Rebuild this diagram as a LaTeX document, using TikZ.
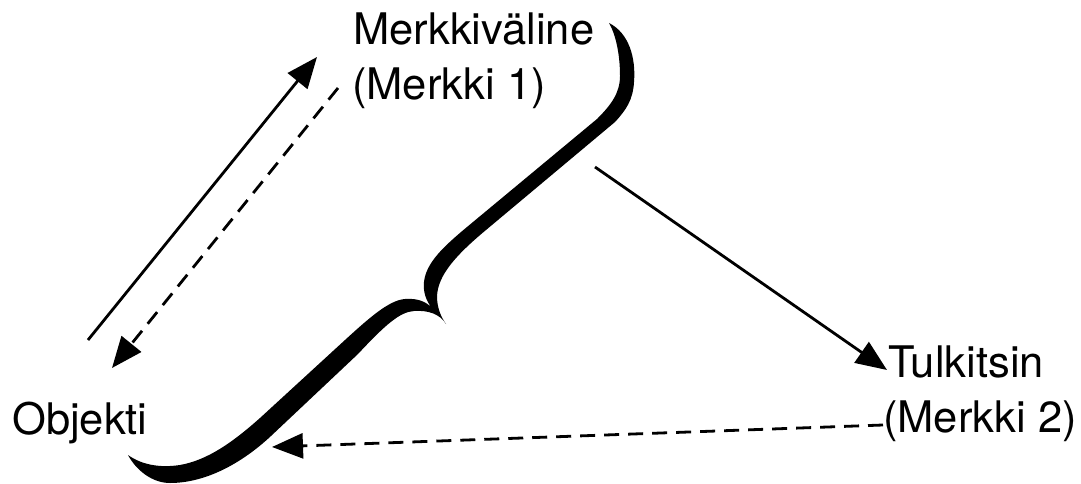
\documentclass[tikz,border=0pt]{standalone}
\usepackage{fontspec}
\setmainfont{TeX Gyre Heros}
\usetikzlibrary{arrows.meta}
\tikzset{
  lbl/.style={anchor=base west, inner sep=0pt, font=\fontsize{43.5}{55}\selectfont},
  solidarrow/.style={line width=2.8pt, -{Triangle[length=31pt,width=25pt]}},
  dasharrow/.style={line width=2.8pt, dash pattern=on 15pt off 9pt, -{Triangle[length=31pt,width=25pt]}},
  bracefill/.style={fill=black, draw=none}
}
\begin{document}
\begin{tikzpicture}[x=1pt,y=-1pt]
\useasboundingbox[fill=white] (0,0) rectangle (1081,484);
% labels
\node[lbl] (merkA) at (353,45) {Merkkiväline};
\node[lbl] (merkB) at (352,100) {(Merkki 1)};
\node[lbl] (obj) at (12,434) {Objekti};
\node[lbl] (tulA) at (888,377) {Tulkitsin};
\node[lbl] (tulB) at (883,432) {(Merkki 2)};
% connector end points
\coordinate (objUp) at (88,340);
\coordinate (merkIn) at (317,57);
\coordinate (merkOut) at (338,88);
\coordinate (objIn) at (112,368);
\coordinate (braceOut) at (595,167);
\coordinate (tulIn) at (887,370);
\coordinate (tulOut) at (883,425);
\coordinate (braceIn) at (272,447);
% brace
\fill[bracefill] (609,23)
  .. controls (629,33) and (636,58) .. (634,82)
  .. controls (633,100) and (626,110) .. (615,122)
  -- (486,230)
  .. controls (456,255) and (438,275) .. (437,296)
  .. controls (437,308) and (441,317) .. (446,324)
  .. controls (440,314) and (428,310) .. (414,311)
  .. controls (400,312) and (386,324) .. (358,354)
  -- (271,436)
  .. controls (241,464) and (205,483) .. (170,483)
  .. controls (152,483) and (136,470) .. (128,455)
  .. controls (142,465) and (160,468) .. (180,465)
  .. controls (208,460) and (233,442) .. (260,418)
  -- (345,340)
  .. controls (368,319) and (389,300) .. (405,299)
  .. controls (418,298) and (426,302) .. (431,307)
  .. controls (426,300) and (423,292) .. (424,282)
  .. controls (426,263) and (443,247) .. (467,227)
  -- (597,119)
  .. controls (611,105) and (620,93) .. (620,76)
  .. controls (620,55) and (616,35) .. (609,23)
  -- cycle;
% connectors
\draw[solidarrow] (objUp) -- (merkIn);
\draw[dasharrow] (merkOut) -- (objIn);
\draw[solidarrow] (braceOut) -- (tulIn);
\draw[dasharrow] (tulOut) -- (braceIn);
\end{tikzpicture}
\end{document}
